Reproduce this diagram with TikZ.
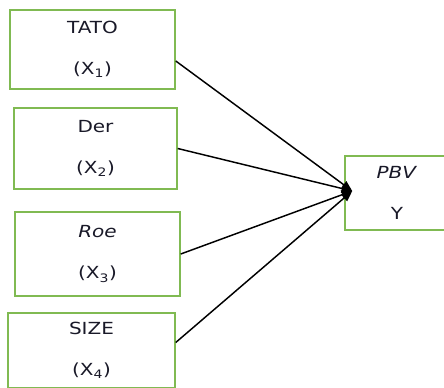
\documentclass[tikz,border=0pt]{standalone}
\usepackage{fontspec}
\setmainfont{DejaVu Sans}[FakeStretch=1.2]
\usepackage{xcolor}
\usepackage{tikz}
\usetikzlibrary{positioning,arrows.meta,calc}
\definecolor{boxgreen}{RGB}{128,186,82}
\definecolor{txtdark}{RGB}{25,25,40}

\begin{document}
\begin{tikzpicture}[x=0.75pt,y=-0.75pt,
    varbox/.style={draw=boxgreen, line width=1.1pt, align=center, inner sep=0pt,
                   font=\fontsize{12.5}{14}\selectfont, text=txtdark},
    link/.style={-{Triangle[length=8pt,width=6.5pt]}, line width=1.1pt}]
  \useasboundingbox (0,0) rectangle (444,387);

  % independent variables
  \node[varbox, minimum width=123.75pt, minimum height=59.25pt] (tato) at (92.5,49.5)
    {TATO\\[16.75pt](X\textsubscript{1})};
  \node[varbox, minimum width=122.25pt, minimum height=60.75pt] (der) at (95.5,148.5)
    {Der\\[16.75pt](X\textsubscript{2})};
  \node[varbox, minimum width=123.75pt, minimum height=63pt] (roe) at (97.5,254)
    {\textit{Roe}\\[16.75pt](X\textsubscript{3})};
  \node[varbox, minimum width=125.25pt, minimum height=56.25pt] (size) at (91.5,350.5)
    {SIZE\\[16.75pt](X\textsubscript{4})};

  % dependent variable
  \node[varbox, minimum width=78pt, minimum height=55.5pt] (pbv) at (397,193)
    {\textit{PBV}\\[16.75pt]Y};
  \coordinate (hub) at ([xshift=6pt,yshift=1.5pt]pbv.west);

  \draw[link] ([yshift=-8.6pt]tato.east) -- (hub);
  \draw[link] (der.east) -- (hub);
  \draw[link] (roe.east) -- (hub);
  \draw[link] ([yshift=6pt]size.east) -- (hub);
\end{tikzpicture}
\end{document}
